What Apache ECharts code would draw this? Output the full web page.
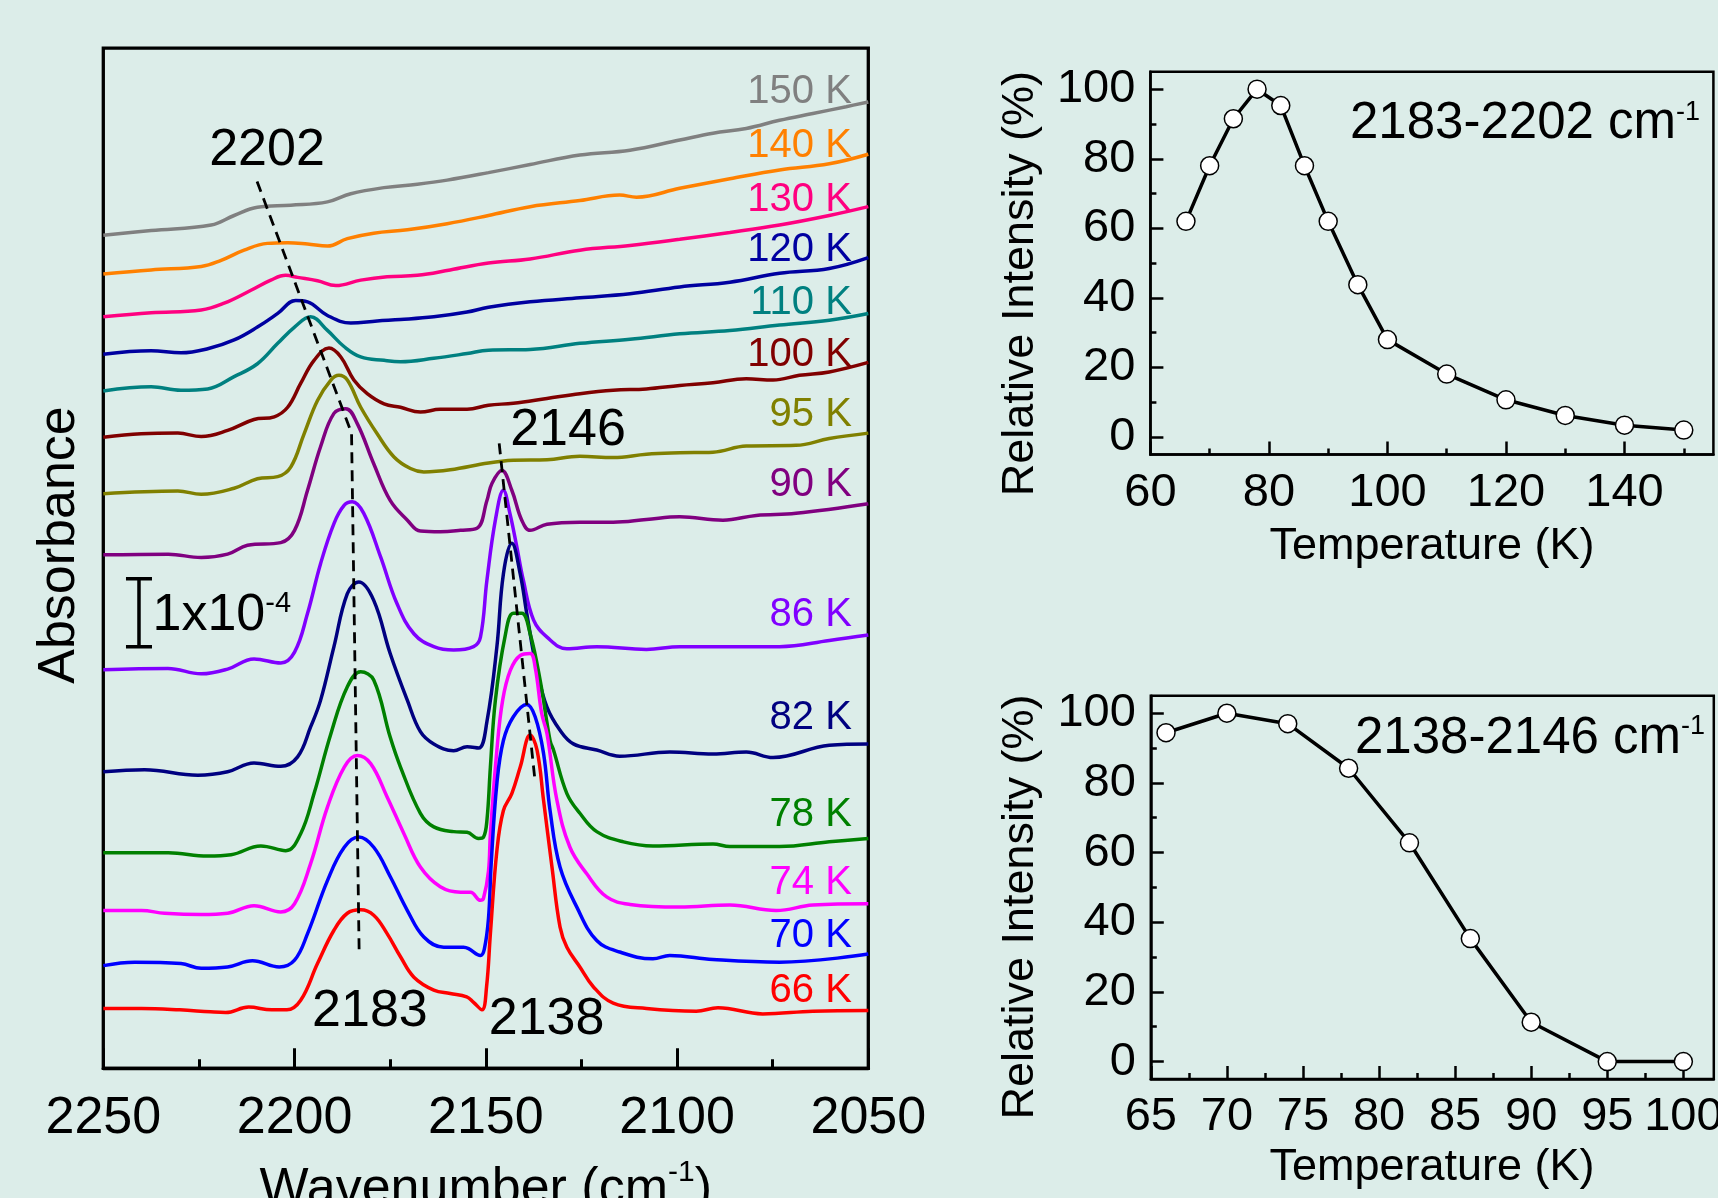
<!DOCTYPE html>
<html>
<head>
<meta charset="utf-8">
<script src="https://cdn.jsdelivr.net/npm/echarts@6/dist/echarts.min.js"></script>
<style>
html, body { margin: 0; padding: 0; background: #DCEDE9; }
#main { width: 1718px; height: 1198px; }
</style>
</head>
<body>
<div id="main"></div>
<script>
// spectra, absorbance in units of 1e-4 (with the stacking offset), x in cm-1
const spec66 = [[2250,0.88],[2240,0.88],[2230,0.86],[2222,0.83],[2218,0.82],[2212,0.9],[2206,0.86],[2202,0.86],[2198.4,1.0],[2194,1.54],[2189.7,2.03],[2186.2,2.28],[2182.7,2.33],[2179.3,2.25],[2175.8,1.98],[2172.3,1.64],[2168.8,1.34],[2163.6,1.15],[2159.3,1.1],[2155,1.05],[2153.2,0.97],[2151,0.86],[2149.8,1.2],[2148.8,1.98],[2147.1,3.2],[2145.4,3.79],[2143.2,4.04],[2141,4.43],[2138.4,4.9],[2136.6,4.68],[2134.9,3.94],[2132.7,2.96],[2130.6,2.08],[2128.8,1.78],[2125.4,1.49],[2121.9,1.2],[2116.7,0.96],[2108,0.88],[2095,0.84],[2089.3,0.89],[2077.6,0.8],[2064.5,0.84],[2050,0.85]];
const spec70 = [[2250,1.51],[2241.8,1.56],[2229.7,1.54],[2224.4,1.47],[2217.5,1.49],[2211,1.58],[2204,1.49],[2200,1.59],[2196.6,1.98],[2191.4,2.76],[2187,3.25],[2183.2,3.4],[2179.3,3.25],[2174.9,2.81],[2170.5,2.32],[2166.2,1.93],[2161,1.78],[2155.8,1.78],[2154.5,1.76],[2151.4,1.66],[2150.4,1.75],[2149.3,2.2],[2148.6,3.0],[2147.1,4.19],[2145.4,4.82],[2142.8,5.17],[2139.3,5.35],[2137.1,5.17],[2134.9,4.63],[2133.2,3.79],[2130.6,2.96],[2126.2,2.37],[2121,1.88],[2115,1.71],[2106.3,1.61],[2101.9,1.66],[2090.6,1.6],[2073.2,1.56],[2050,1.68]];
const spec74 = [[2250,2.32],[2240,2.32],[2234,2.28],[2224.4,2.26],[2217.5,2.28],[2210.6,2.39],[2203.6,2.3],[2200,2.42],[2195.8,3.01],[2191.4,3.84],[2187,4.43],[2183.6,4.6],[2180.1,4.48],[2175.8,3.99],[2171.4,3.45],[2167.1,2.96],[2161.9,2.67],[2156.6,2.59],[2154,2.59],[2151.4,2.47],[2150.6,2.5],[2149.3,2.9],[2148.8,3.45],[2147.1,4.68],[2145.6,5.41],[2143.6,5.85],[2141,6.07],[2138.4,6.1],[2137.1,5.9],[2135.4,5.22],[2134,4.92],[2131.4,3.94],[2128,3.25],[2123.6,2.86],[2118.4,2.52],[2112.3,2.41],[2099.4,2.37],[2086.2,2.4],[2074.1,2.32],[2064.5,2.4],[2050,2.42]];
const spec78 = [[2250,3.17],[2233,3.17],[2222.7,3.12],[2216.6,3.14],[2208.8,3.27],[2202.3,3.2],[2198.4,3.45],[2194.9,4.04],[2190.5,4.92],[2186.2,5.61],[2182.7,5.83],[2179.3,5.71],[2175,4.87],[2172.3,4.43],[2167.1,3.75],[2163.6,3.55],[2158.4,3.48],[2154.9,3.47],[2151.9,3.38],[2150.6,3.4],[2149.7,3.65],[2148.8,4.43],[2147.5,5.41],[2145,6.34],[2142.8,6.69],[2140.6,6.69],[2138.4,6.39],[2135.8,5.71],[2133.2,4.82],[2132.3,4.68],[2128.8,4.04],[2125.4,3.75],[2121,3.48],[2114,3.33],[2106.3,3.27],[2090.6,3.3],[2086.2,3.26],[2073.2,3.26],[2060.2,3.33],[2050,3.38]];
const spec82 = [[2250,4.36],[2239.2,4.39],[2225.3,4.31],[2217.5,4.36],[2210.6,4.49],[2203.6,4.44],[2199.2,4.58],[2195.8,5.02],[2193.2,5.41],[2189.7,6.2],[2186.2,6.98],[2183.2,7.15],[2179.3,6.88],[2175,6.1],[2170.5,5.41],[2167.1,4.95],[2163.6,4.77],[2158.4,4.67],[2154.9,4.73],[2151.9,4.71],[2149.7,5.1],[2147.1,6.2],[2145.4,7.27],[2143.2,7.72],[2141,7.27],[2139.3,6.69],[2136.6,5.85],[2134,5.31],[2130.6,4.97],[2127.1,4.77],[2121,4.68],[2115,4.59],[2101.9,4.65],[2090.6,4.62],[2081.9,4.65],[2074.9,4.57],[2060.2,4.75],[2050,4.77]];
const spec86 = [[2250,5.86],[2233.1,5.88],[2224.4,5.8],[2217.5,5.87],[2210.6,6.02],[2203.6,5.96],[2200,6.12],[2196.6,6.69],[2193.2,7.42],[2189.7,8.01],[2187,8.28],[2184.9,8.33],[2181.9,8.16],[2177.5,7.52],[2173.2,6.83],[2168.8,6.39],[2163.6,6.2],[2158.4,6.15],[2153.2,6.2],[2151.4,6.34],[2149.7,7.18],[2147.5,8.06],[2145.4,8.5],[2143.7,8.16],[2141.9,7.67],[2140.2,7.18],[2137.5,6.59],[2134,6.34],[2128.8,6.17],[2121,6.2],[2108,6.16],[2099.3,6.2],[2086.2,6.2],[2073.2,6.2],[2060.2,6.29],[2050,6.37]];
const spec90 = [[2250,7.55],[2233,7.56],[2224.4,7.51],[2217.5,7.56],[2212.3,7.69],[2203.6,7.73],[2200,7.91],[2196.6,8.5],[2193.2,9.14],[2189.7,9.63],[2186.6,9.7],[2183.6,9.48],[2179.3,8.89],[2175,8.35],[2170.5,8.06],[2167.1,7.9],[2161.9,7.89],[2156.6,7.91],[2152.3,7.94],[2149.7,8.35],[2148.4,8.6],[2145.8,8.79],[2143.2,8.5],[2140.6,8.06],[2138.4,7.91],[2134,8.0],[2125.4,8.03],[2116.7,8.03],[2108,8.07],[2099.3,8.11],[2088,8.06],[2079.3,8.13],[2068.9,8.16],[2050,8.3]];
const spec95 = [[2250,8.45],[2230.5,8.49],[2224.4,8.44],[2215.8,8.53],[2209.7,8.67],[2204.4,8.7],[2201,8.84],[2197.5,9.33],[2194,9.82],[2190.5,10.12],[2188.4,10.19],[2186.2,10.12],[2182.7,9.72],[2178.4,9.33],[2174,8.99],[2169.7,8.82],[2166.2,8.77],[2159.3,8.8],[2149.3,8.9],[2142.8,8.94],[2134,8.95],[2125.4,9.0],[2116.7,8.98],[2108,9.03],[2099.3,9.05],[2090.6,9.06],[2081.9,9.15],[2068.9,9.16],[2060.2,9.26],[2050,9.34]];
const spec100 = [[2250,9.28],[2240.1,9.33],[2230.5,9.34],[2224.4,9.29],[2217.5,9.38],[2210.6,9.54],[2205.3,9.58],[2201.8,9.72],[2198.4,10.07],[2194.9,10.41],[2191,10.59],[2187.9,10.46],[2184.5,10.12],[2181,9.92],[2176.6,9.77],[2172.3,9.72],[2167.1,9.65],[2161.9,9.69],[2154.9,9.69],[2149.3,9.75],[2142.8,9.78],[2134,9.85],[2125.4,9.92],[2116.7,9.97],[2108,9.99],[2099.3,10.04],[2090.6,10.08],[2081.9,10.14],[2074.9,10.12],[2068,10.19],[2060.2,10.24],[2050,10.38]];
const spec110 = [[2250,9.96],[2237.5,10.02],[2229.7,9.97],[2222.7,9.99],[2215.8,10.17],[2209.7,10.36],[2204.4,10.66],[2200,10.9],[2195.8,11.05],[2191.4,10.85],[2187,10.61],[2182.7,10.46],[2176.6,10.41],[2172.3,10.39],[2163.6,10.44],[2154.9,10.51],[2149.3,10.56],[2138.4,10.57],[2125.4,10.66],[2112.3,10.72],[2099.3,10.8],[2086.2,10.85],[2073.2,10.93],[2060.2,11.0],[2050,11.1]];
const spec120 = [[2250,10.5],[2237.5,10.55],[2229.7,10.52],[2222.7,10.58],[2215.8,10.71],[2209.7,10.9],[2204.4,11.1],[2199.7,11.29],[2196.6,11.27],[2191.4,11.07],[2185.3,10.96],[2178.4,10.99],[2172.3,11.01],[2163.6,11.05],[2154.9,11.12],[2149.3,11.19],[2138.4,11.27],[2125.4,11.33],[2112.3,11.39],[2099.3,11.49],[2086.2,11.56],[2073.2,11.69],[2060.2,11.76],[2050,11.92]];
const spec130 = [[2250,11.05],[2237.5,11.11],[2224.4,11.15],[2218.4,11.25],[2211.4,11.44],[2206.2,11.59],[2202.3,11.66],[2199.2,11.63],[2194,11.58],[2189.2,11.51],[2182.7,11.59],[2175.8,11.64],[2167.9,11.66],[2159.3,11.74],[2149.3,11.84],[2138.4,11.9],[2125.4,12.03],[2112.3,12.1],[2099.3,12.19],[2086.2,12.29],[2073.2,12.4],[2060.2,12.54],[2050,12.67]];
const spec140 = [[2250,11.68],[2237.5,11.74],[2224.4,11.79],[2219.2,11.88],[2213.2,12.03],[2207.1,12.13],[2201.8,12.14],[2196.6,12.12],[2191.4,12.09],[2186.2,12.2],[2179.3,12.28],[2170.5,12.33],[2160.1,12.42],[2149.3,12.54],[2138.4,12.67],[2125.4,12.76],[2115,12.84],[2110.6,12.81],[2099.3,12.94],[2086.2,13.08],[2073.2,13.21],[2060.2,13.3],[2050,13.44]];
const spec150 = [[2250,12.25],[2237.5,12.32],[2221.8,12.4],[2215.8,12.54],[2209.7,12.66],[2201,12.69],[2191.4,12.74],[2185.3,12.86],[2176.6,12.95],[2167.9,13.0],[2160.1,13.06],[2149.3,13.17],[2138.4,13.29],[2125.4,13.43],[2112.3,13.5],[2099.3,13.65],[2090.6,13.75],[2081.9,13.82],[2073.2,13.94],[2064.5,14.04],[2055.8,14.14],[2050,14.21]];

const tempNames = ['150 K','140 K','130 K','120 K','110 K','100 K','95 K','90 K','86 K','82 K','78 K','74 K','70 K','66 K'];
const spectra = [spec150, spec140, spec130, spec120, spec110, spec100, spec95, spec90, spec86, spec82, spec78, spec74, spec70, spec66];

// guide lines for the peak shifts
const shift2202 = [[2209.8,13.04],[2185.1,9.34],[2183.1,1.67]];
const shift2146 = [[2146.5,9.19],[2137.1,4.21]];
const peakNames = ['2202','2146','2183','2138'];

// relative intensities
const tempA = [66,70,74,78,82,86,90,95,100,110,120,130,140,150];
const intA  = [62,78,91.5,100,95.3,78,62,43.8,28,18.1,10.7,6.2,3.4,2.0];
const tempB = [66,70,74,78,82,86,90,95,100];
const intB  = [94.4,100,97,84.2,62.8,35.3,11.3,0,0];

const tickA = [60,80,100,120,140];
const minorTicksA = [70,90,110,130,150];
const tickB = [65,70,75,80,85,90,95,100];
const minorTicksB = [67.5,72.5,77.5,82.5,87.5,92.5,97.5];
const tickY = [0,20,40,60,80,100];
const minorTicksY = [10,30,50,70,90];

// styles and placement
const colors = ['#808080','#FF8000','#FF0080','#0000A0','#008080','#800000','#808000','#800080','#8000FF','#000080','#008000','#FF00FF','#0000FF','#FF0000'];
const labelY = [14.36,13.56,12.77,12.03,11.25,10.49,9.61,8.58,6.67,5.15,3.72,2.72,1.94,1.13];
const labelX = 2054.3;
const peakPos = [[2207.2,13.5],[2128.5,9.38],[2180.3,0.83],[2134.1,0.71]];
const barX = 2240.67, barHalf = 3.4, barTop = 7.2, barBottom = 6.2;

const FONT = '"Liberation Sans", Arial, sans-serif';
const black = '#000';

const chart = echarts.init(document.getElementById('main'));

let series = spectra.map((d, i) => ({
  type: 'line', xAxisIndex: 0, yAxisIndex: 0, data: d,
  symbol: 'none', smooth: 0.4, silent: true,
  lineStyle: { width: 3.5, color: colors[i] }
}));

[shift2202, shift2146].forEach(d => {
  series.push({
    type: 'line', xAxisIndex: 0, yAxisIndex: 0, data: d, symbol: 'none', silent: true, z: 5,
    lineStyle: { width: 2.8, color: black, type: [11, 7] }
  });
});

// scale bar 1x10^-4
[
  [[barX, barTop], [barX, barBottom]],
  [[barX + barHalf, barTop], [barX - barHalf, barTop]],
  [[barX + barHalf, barBottom], [barX - barHalf, barBottom]]
].forEach(d => {
  series.push({
    type: 'line', xAxisIndex: 0, yAxisIndex: 0, data: d, symbol: 'none', silent: true,
    lineStyle: { width: 3.5, color: black }
  });
});

function intensitySeries(xi, yi, t, v) {
  return {
    type: 'line', xAxisIndex: xi, yAxisIndex: yi,
    data: t.map((x, i) => [x, v[i]]),
    symbol: 'circle', symbolSize: 18, silent: true,
    lineStyle: { width: 3.5, color: black },
    itemStyle: { color: '#fff', borderColor: black, borderWidth: 1.5 }
  };
}
series.push(intensitySeries(1, 1, tempA, intA));
series.push(intensitySeries(3, 3, tempB, intB));

const lineS = { color: black, width: 2.5 };
const labelS = { fontSize: 47, color: black, fontFamily: FONT, margin: 15 };

function majorXAxis(grid, min, max, ticks) {
  return {
    gridIndex: grid, type: 'value', min: min, max: max, position: 'bottom',
    axisLine: { onZero: false, lineStyle: lineS },
    axisTick: { inside: true, length: 13, customValues: ticks, lineStyle: lineS },
    axisLabel: Object.assign({ customValues: ticks }, labelS),
    splitLine: { show: false }
  };
}
function minorXAxis(grid, min, max, ticks) {
  return {
    gridIndex: grid, type: 'value', min: min, max: max, position: 'bottom',
    axisLine: { show: false, onZero: false },
    axisTick: { inside: true, length: 6, customValues: ticks, lineStyle: lineS },
    axisLabel: { show: false }, splitLine: { show: false }
  };
}
function majorYAxis(grid) {
  return {
    gridIndex: grid, type: 'value', min: -5, max: 105, position: 'left',
    axisLine: { show: true, onZero: false, lineStyle: lineS },
    axisTick: { inside: true, length: 13, customValues: tickY, lineStyle: lineS },
    axisLabel: Object.assign({ customValues: tickY }, labelS),
    splitLine: { show: false }
  };
}
function minorYAxis(grid) {
  return {
    gridIndex: grid, type: 'value', min: -5, max: 105, position: 'left',
    axisLine: { show: false, onZero: false },
    axisTick: { inside: true, length: 6, customValues: minorTicksY, lineStyle: lineS },
    axisLabel: { show: false }, splitLine: { show: false }
  };
}

const gridBase = { show: true, borderColor: black, backgroundColor: 'transparent', outerBoundsMode: 'none', containLabel: false };

const option = {
  animation: false,
  backgroundColor: '#DCEDE9',
  grid: [
    Object.assign({ left: 103.3, top: 48.2, width: 765, height: 1020.1, borderWidth: 3.3 }, gridBase),
    Object.assign({ left: 1150.4, top: 71.8, width: 563, height: 382.6, borderWidth: 2.5 }, gridBase),
    Object.assign({ left: 1150.8, top: 695.8, width: 563, height: 383.2, borderWidth: 2.5 }, gridBase)
  ],
  xAxis: [
    {
      gridIndex: 0, type: 'value', min: 2050, max: 2250, interval: 50, inverse: true, position: 'bottom',
      axisLine: { onZero: false, lineStyle: { color: black, width: 3.3 } },
      axisTick: { inside: true, length: 20, lineStyle: { color: black, width: 3 } },
      minorTick: { show: true, splitNumber: 2, length: 9, lineStyle: { color: black, width: 3 } },
      axisLabel: { fontSize: 52, color: black, fontFamily: FONT, margin: 24, formatter: v => String(v) },
      splitLine: { show: false },
      name: '{m|Wavenumber (cm}{s|-1}{m|)}', nameLocation: 'middle', nameGap: 89,
      nameTextStyle: {
        rich: {
          m: { fontSize: 52, color: black, fontFamily: FONT },
          s: { fontSize: 30, color: black, fontFamily: FONT, verticalAlign: 'top', lineHeight: 64 }
        }
      }
    },
    majorXAxis(1, 60, 155, tickA),
    minorXAxis(1, 60, 155, minorTicksA),
    majorXAxis(2, 65, 102, tickB),
    minorXAxis(2, 65, 102, minorTicksB)
  ],
  yAxis: [
    { gridIndex: 0, type: 'value', min: 0, max: 15, show: false },
    majorYAxis(1), minorYAxis(1), majorYAxis(2), minorYAxis(2)
  ],
  series: series
};

chart.setOption(option);

const toPx = p => chart.convertToPixel({ xAxisIndex: 0, yAxisIndex: 0 }, p);
const graphic = [];

tempNames.forEach((name, i) => {
  const p = toPx([labelX, labelY[i]]);
  graphic.push({
    type: 'text', x: p[0], y: p[1], silent: true,
    style: { text: name, fontSize: 40, fontFamily: FONT, fill: colors[i], align: 'right', verticalAlign: 'middle' }
  });
});

peakNames.forEach((name, i) => {
  const p = toPx(peakPos[i]);
  graphic.push({
    type: 'text', x: p[0], y: p[1], silent: true, z: 10,
    style: { text: name, fontSize: 52, fontFamily: FONT, fill: black, align: 'center', verticalAlign: 'middle' }
  });
});

const barPx = toPx([barX - barHalf, barTop]);
graphic.push({
  type: 'text', x: barPx[0] + 0.5, y: barPx[1] + 10.7, silent: true,
  style: {
    text: '{m|1x10}{s|-4}', align: 'left', verticalAlign: 'top',
    rich: {
      m: { fontSize: 52, fontFamily: FONT, fill: black },
      s: { fontSize: 29, fontFamily: FONT, fill: black, verticalAlign: 'top' }
    }
  }
});

graphic.push({
  type: 'text', x: 59.5, y: 545, rotation: Math.PI / 2, silent: true,
  style: { text: 'Absorbance', fontSize: 52, fontFamily: FONT, fill: black, align: 'center', verticalAlign: 'middle' }
});

[[283.6, 547], [907, 1168]].forEach(pos => {
  graphic.push({
    type: 'text', x: 1021, y: pos[0], rotation: Math.PI / 2, silent: true,
    style: { text: 'Relative Intensity (%)', fontSize: 45, fontFamily: FONT, fill: black, align: 'center', verticalAlign: 'middle' }
  });
  graphic.push({
    type: 'text', x: 1432, y: pos[1], silent: true,
    style: { text: 'Temperature (K)', fontSize: 45, fontFamily: FONT, fill: black, align: 'center', verticalAlign: 'middle' }
  });
});

[['2183-2202 cm', 1350, 98.6], ['2138-2146 cm', 1355, 713.2]].forEach(a => {
  graphic.push({
    type: 'text', x: a[1], y: a[2], silent: true,
    style: {
      text: '{m|' + a[0] + '}{s|-1}', align: 'left', verticalAlign: 'top',
      rich: {
        m: { fontSize: 51, fontFamily: FONT, fill: black },
        s: { fontSize: 27, fontFamily: FONT, fill: black, verticalAlign: 'top' }
      }
    }
  });
});

chart.setOption({ graphic: graphic });
</script>
</body>
</html>
